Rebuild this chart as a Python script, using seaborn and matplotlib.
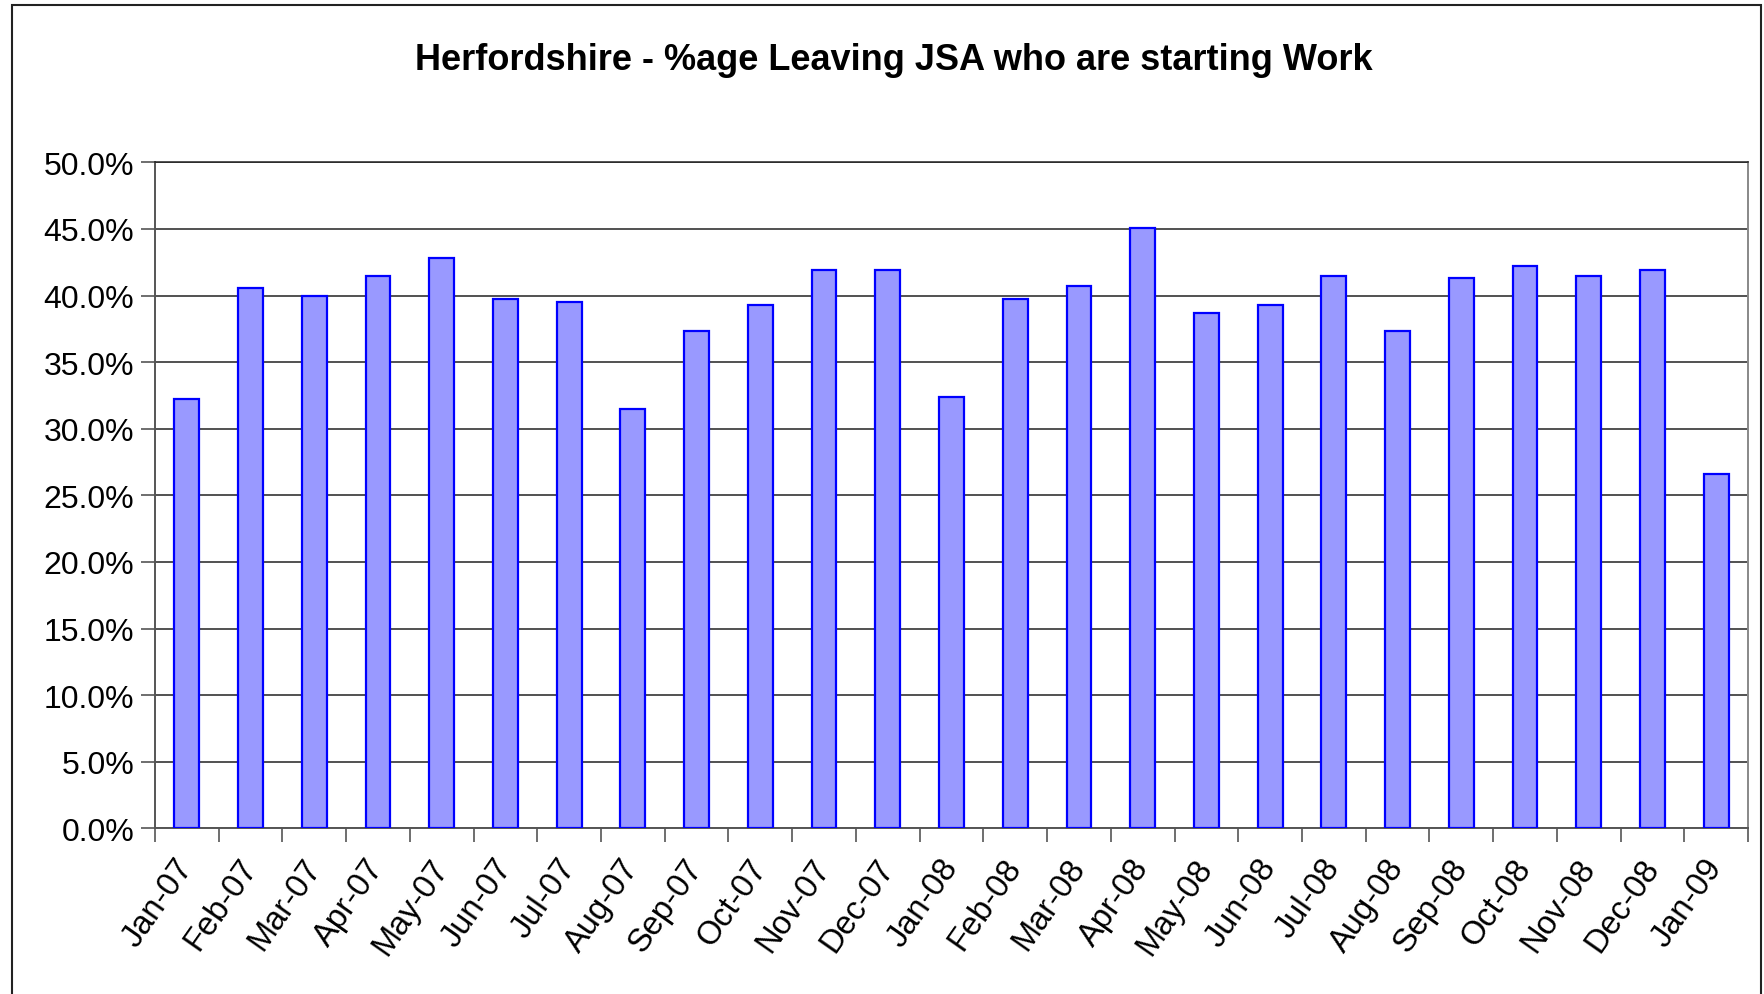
import matplotlib
matplotlib.use("Agg")
import matplotlib.pyplot as plt
import seaborn as sns
import pandas as pd
from matplotlib.ticker import FuncFormatter, MultipleLocator
from matplotlib.patches import Rectangle

months = ["Jan-07", "Feb-07", "Mar-07", "Apr-07", "May-07", "Jun-07", "Jul-07",
          "Aug-07", "Sep-07", "Oct-07", "Nov-07", "Dec-07", "Jan-08", "Feb-08",
          "Mar-08", "Apr-08", "May-08", "Jun-08", "Jul-08", "Aug-08", "Sep-08",
          "Oct-08", "Nov-08", "Dec-08", "Jan-09"]
pct_starting_work = [32.2, 40.6, 40.0, 41.5, 42.8, 39.7, 39.5, 31.5, 37.3, 39.3,
                     41.9, 41.9, 32.4, 39.7, 40.7, 45.1, 38.7, 39.3, 41.5, 37.3,
                     41.3, 42.2, 41.5, 41.9, 26.6]
title = "Herfordshire - %age Leaving JSA who are starting Work"

df = pd.DataFrame({"month": months, "pct": pct_starting_work})

sns.set_style("white")
plt.rcParams["font.family"] = ["Liberation Sans", "DejaVu Sans"]
plt.rcParams["text.color"] = "black"
plt.rcParams["xtick.labelcolor"] = "black"
plt.rcParams["ytick.labelcolor"] = "black"

W, H = 1764, 995
fig = plt.figure(figsize=(W / 100, H / 100), dpi=100)
ax = fig.add_axes([155 / W, 1 - 829.3 / H, (1748 - 155) / W, (829.3 - 163.3) / H])

sns.barplot(data=df, x="month", y="pct", ax=ax, color="#9999FF", saturation=1,
            width=0.39, edgecolor="#0000FF", linewidth=1.6, zorder=3)

ax.set_ylim(0, 50)
ax.set_xlim(-0.5, len(months) - 0.5)
ax.yaxis.set_major_locator(MultipleLocator(5))
ax.yaxis.set_major_formatter(FuncFormatter(lambda v, p: f"{v:.1f}%"))
ax.grid(axis="y", color="#222222", linewidth=1.1, zorder=0)
ax.set_axisbelow(True)
ax.set_xlabel("")
ax.set_ylabel("")

ax.tick_params(axis="y", direction="out", length=10, width=1.2, color="#555555",
               labelsize=23, pad=5, left=True, labelcolor="black")
ax.set_xticks([i for i in range(len(months))])
ax.set_xticklabels(months)
ax.tick_params(axis="x", which="major", length=0, labelsize=23.5, pad=24,
               labelcolor="black")
for lbl in ax.get_xticklabels():
    lbl.set_rotation(55)
    lbl.set_ha("right")
    lbl.set_va("center")
    lbl.set_rotation_mode("anchor")
ax.set_xticks([i - 0.5 for i in range(len(months) + 1)], minor=True)
ax.tick_params(axis="x", which="minor", direction="out", length=10, width=1.2,
               color="#555555", bottom=True)

for s in ["left", "bottom"]:
    ax.spines[s].set_color("#555555")
    ax.spines[s].set_linewidth(1.4)
ax.spines["top"].set_color("#222222")
ax.spines["top"].set_linewidth(1.1)
ax.spines["right"].set_color("#888888")
ax.spines["right"].set_linewidth(1.4)

fig.text(894 / W, 1 - 60 / H, title, ha="center", va="center",
         fontsize=26, fontweight="bold", color="black")

fig.patches.append(Rectangle((12 / W, -0.05), (1761 - 12) / W, 1.05 - 6 / H,
                             transform=fig.transFigure, fill=False,
                             edgecolor="#222222", linewidth=1.5))

fig.savefig("out.png", dpi=100)
